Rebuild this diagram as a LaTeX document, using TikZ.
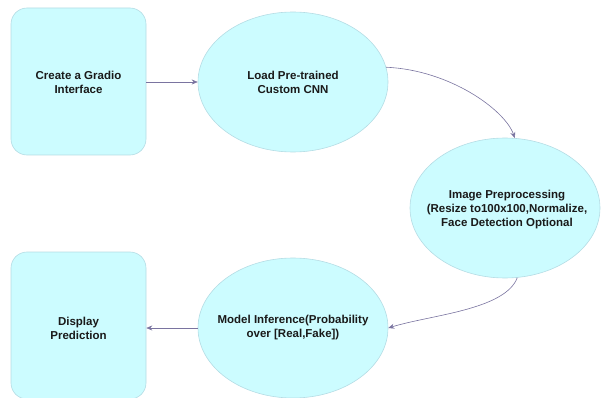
\documentclass[tikz,border=0pt]{standalone}
\usepackage{fontspec}
\setmainfont{Liberation Sans}
\usetikzlibrary{shapes.geometric,arrows.meta}
\definecolor{fillc}{HTML}{CCFCFF}
\definecolor{edgec}{HTML}{B4DCE4}
\definecolor{arrc}{HTML}{7A74A0}
\definecolor{txtc}{HTML}{1A1A1A}
\tikzset{
  boxstyle/.style={draw=edgec, fill=fillc, line width=0.6pt, rounded corners=16pt,
    minimum width=135pt, minimum height=147pt, inner sep=0pt},
  ellstyle/.style={ellipse, draw=edgec, fill=fillc, line width=0.6pt,
    minimum width=190pt, minimum height=140pt, inner sep=0pt},
  lbl/.style={text=txtc, align=center, font=\fontsize{11.5}{14}\selectfont\bfseries},
  conn/.style={draw=arrc, line width=0.6pt, -{Stealth[length=6pt,width=5pt]}}
}
\begin{document}
\begin{tikzpicture}[x=1pt,y=-1pt]
\useasboundingbox (0,0) rectangle (602,398);
\begin{scope}
\clip (0,0) rectangle (602,398);
\node[boxstyle] (gradio) at (78.5,81.5) {};
\node[ellstyle] (load) at (293,82) {};
\node[ellstyle] (prep) at (505,208) {};
\node[ellstyle] (model) at (293,328) {};
\node[boxstyle] (disp) at (78.5,325.5) {};
\end{scope}
\node[lbl] at (78.5,82) {Create a Gradio\\Interface};
\node[lbl] at (293,82) {Load Pre-trained\\Custom CNN};
\node[lbl] at (507,210) {Image Preprocessing\\(Resize to100x100,Normalize,\\Face Detection Optional};
\node[lbl] at (293,328) {Model Inference(Probability\\over [Real,Fake])};
\node[lbl] at (78.5,328) {Display\\Prediction};
\draw[conn] (gradio.east |- load.west) -- (load.west);
\draw[conn] (load.9) .. controls (450,70) and (505,110) .. (prep.82);
\draw[conn] (prep.-80) .. controls (505,310) and (430,315) .. (model.east);
\draw[conn] (model.west) -- (disp.east |- model.west);
\end{tikzpicture}
\end{document}
